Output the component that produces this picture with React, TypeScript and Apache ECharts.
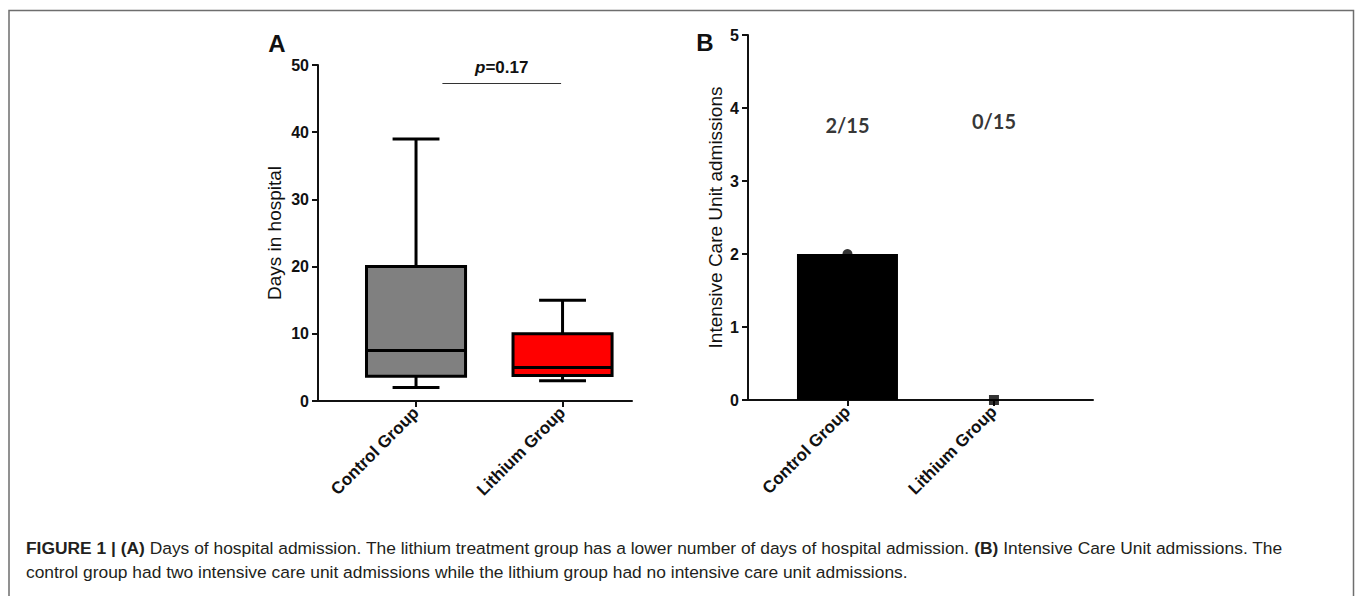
import React, { useEffect, useRef } from "react";
import * as echarts from "echarts";

// ---- Data ----
const categories = ["Control Group", "Lithium Group"];
const daysMin = [2, 3];
const daysQ1 = [3.7, 3.8];
const daysMedian = [7.5, 5];
const daysQ3 = [20, 10];
const daysMax = [39, 15];
const daysTicks = [0, 10, 20, 30, 40, 50];

const icuAdmissions = [2, 0];
const icuFractions = ["2/15", "0/15"];
const icuFractionLevel = [3.77, 3.82];
const icuTicks = [0, 1, 2, 3, 4, 5];

const pValueText = "0.17";
const pLineFrom = 1.18;
const pLineTo = 1.99;
const pLineLevel = 47.3;

const boxColors = ["#808080", "#ff0000"];
const FONT = "'Liberation Sans', Arial, sans-serif";

export default function App() {
  const ref = useRef<HTMLDivElement>(null);

  useEffect(() => {
    if (!ref.current) return;
    const chart = echarts.init(ref.current, null, { renderer: "svg" });

    const boxWidthUnits = 0.676;
    const capWidthUnits = 0.32;

    const boxData = categories.map((_, i) => [
      i + 1,
      daysMin[i],
      daysQ1[i],
      daysMedian[i],
      daysQ3[i],
      daysMax[i],
    ]);

    const xAxisCommon = (gi: number, min: number, max: number) => ({
      type: "value",
      gridIndex: gi,
      min,
      max,
      splitLine: { show: false },
      axisLine: { show: true, onZero: false, lineStyle: { color: "#111", width: 2 } },
      axisTick: { show: true, customValues: [1, 2], length: 6, lineStyle: { color: "#111", width: 2 } },
      axisLabel: {
        customValues: [1, 2],
        formatter: (v: number) => categories[Math.round(v) - 1] ?? "",
        rotate: 45,
        fontFamily: FONT,
        fontWeight: "bold",
        fontSize: 17,
        color: "#111",
        margin: 9,
      },
    });

    const yAxisCommon = (gi: number, max: number, interval: number, name: string, gap: number) => ({
      type: "value",
      gridIndex: gi,
      min: 0,
      max,
      interval,
      name,
      nameLocation: "middle",
      nameGap: gap,
      nameTextStyle: { fontFamily: FONT, fontSize: 19, color: "#111" },
      splitLine: { show: false },
      axisLine: { show: true, onZero: false, lineStyle: { color: "#111", width: 2 } },
      axisTick: { show: true, length: 6, lineStyle: { color: "#111", width: 2 } },
      axisLabel: {
        fontFamily: FONT,
        fontWeight: "bold",
        fontSize: 16,
        color: "#111",
        margin: 9,
      },
    });

    const option: any = {
      animation: false,
      backgroundColor: "#ffffff",
      grid: [
        { left: 318, top: 65, width: 314, height: 336 },
        { left: 748, top: 35, width: 345, height: 365 },
      ],
      xAxis: [xAxisCommon(0, 0.331, 2.474), xAxisCommon(1, 0.321, 2.676)],
      yAxis: [
        yAxisCommon(0, daysTicks[daysTicks.length - 1], daysTicks[1] - daysTicks[0], "Days in hospital", 34),
        yAxisCommon(1, icuTicks[icuTicks.length - 1], icuTicks[1] - icuTicks[0], "Intensive Care Unit admissions", 23),
      ],
      series: [
        {
          type: "custom",
          xAxisIndex: 0,
          yAxisIndex: 0,
          data: boxData,
          encode: { x: 0, y: [1, 2, 3, 4, 5] },
          renderItem: (params: any, api: any) => {
            const x = api.value(0);
            const lo = api.coord([x, api.value(1)]);
            const q1 = api.coord([x, api.value(2)]);
            const med = api.coord([x, api.value(3)]);
            const q3 = api.coord([x, api.value(4)]);
            const hi = api.coord([x, api.value(5)]);
            const bw = api.size([boxWidthUnits, 0])[0];
            const cw = api.size([capWidthUnits, 0])[0];
            const st = { stroke: "#000", lineWidth: 3 };
            return {
              type: "group",
              children: [
                { type: "line", shape: { x1: hi[0], y1: hi[1], x2: q3[0], y2: q3[1] }, style: st },
                { type: "line", shape: { x1: lo[0], y1: lo[1], x2: q1[0], y2: q1[1] }, style: st },
                { type: "line", shape: { x1: hi[0] - cw / 2, y1: hi[1], x2: hi[0] + cw / 2, y2: hi[1] }, style: st },
                { type: "line", shape: { x1: lo[0] - cw / 2, y1: lo[1], x2: lo[0] + cw / 2, y2: lo[1] }, style: st },
                {
                  type: "rect",
                  shape: { x: q3[0] - bw / 2, y: q3[1], width: bw, height: q1[1] - q3[1] },
                  style: { fill: boxColors[params.dataIndex], stroke: "#000", lineWidth: 3 },
                },
                { type: "line", shape: { x1: med[0] - bw / 2, y1: med[1], x2: med[0] + bw / 2, y2: med[1] }, style: st },
              ],
            };
          },
          markLine: {
            silent: true,
            symbol: "none",
            lineStyle: { color: "#333", width: 1, type: "solid" },
            label: {
              show: true,
              position: "middle",
              distance: 7,
              formatter: "{i|p}{b|=" + pValueText + "}",
              rich: {
                i: { fontFamily: FONT, fontWeight: "bold", fontStyle: "italic", fontSize: 17, color: "#111" },
                b: { fontFamily: FONT, fontWeight: "bold", fontSize: 17, color: "#111" },
              },
            },
            data: [[{ coord: [pLineFrom, pLineLevel] }, { coord: [pLineTo, pLineLevel] }]],
          },
        },
        {
          type: "bar",
          xAxisIndex: 1,
          yAxisIndex: 1,
          barWidth: 101,
          itemStyle: { color: "#000" },
          data: icuAdmissions.map((v, i) => [i + 1, v]),
        },
        {
          type: "scatter",
          xAxisIndex: 1,
          yAxisIndex: 1,
          symbolSize: 10,
          itemStyle: { color: "#000" },
          data: icuAdmissions.map((v, i) => ({ value: [i + 1, v], symbol: i === 0 ? "circle" : "rect" })),
        },
        {
          type: "scatter",
          xAxisIndex: 1,
          yAxisIndex: 1,
          symbolSize: 0,
          silent: true,
          label: {
            show: true,
            position: "inside",
            formatter: (p: any) => icuFractions[p.dataIndex],
            fontFamily: "Lato, 'Open Sans', sans-serif",
            fontWeight: "bold",
            fontSize: 20,
            color: "#000",
          },
          data: icuFractionLevel.map((v, i) => [i + 1, v]),
        },
      ],
      graphic: [
        {
          type: "rect",
          shape: { x: 9, y: 10.5, width: 1344.5, height: 620 },
          style: { fill: "none", stroke: "#6e6e6e", lineWidth: 1.5 },
          silent: true,
        },
        {
          type: "text",
          x: 277,
          y: 43,
          style: { text: "A", fontFamily: FONT, fontWeight: "bold", fontSize: 24, fill: "#111", align: "center", verticalAlign: "middle" },
        },
        {
          type: "text",
          x: 705,
          y: 42,
          style: { text: "B", fontFamily: FONT, fontWeight: "bold", fontSize: 24, fill: "#111", align: "center", verticalAlign: "middle" },
        },
        {
          type: "text",
          x: 26,
          y: 548,
          style: {
            text:
              "{b|FIGURE 1 | (A)} Days of hospital admission. The lithium treatment group has a lower number of days of hospital admission. {b|(B)} Intensive Care Unit admissions. The",
            fontFamily: FONT,
            fontSize: 17.4,
            fill: "#231f20",
            verticalAlign: "middle",
            rich: { b: { fontFamily: FONT, fontSize: 17.4, fontWeight: "bold", fill: "#231f20" } },
          },
        },
        {
          type: "text",
          x: 26,
          y: 572,
          style: {
            text: "control group had two intensive care unit admissions while the lithium group had no intensive care unit admissions.",
            fontFamily: FONT,
            fontSize: 17.4,
            fill: "#231f20",
            verticalAlign: "middle",
          },
        },
      ],
    };

    chart.setOption(option);
    return () => chart.dispose();
  }, []);

  return (
    <div
      ref={ref}
      style={{ position: "absolute", left: 0, top: 0, width: 1355, height: 596, background: "#fff" }}
    />
  );
}
